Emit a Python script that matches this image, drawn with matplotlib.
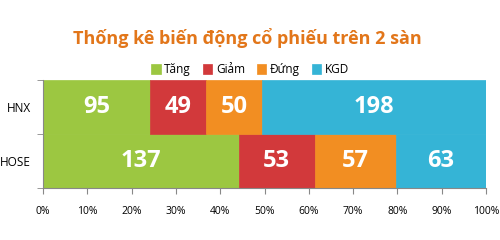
import matplotlib
matplotlib.use("Agg")
import matplotlib.pyplot as plt
import numpy as np

categories = ["HOSE", "HNX"]
series_names = ["Tăng", "Giảm", "Đứng", "KGD"]
tang = [137, 95]
giam = [53, 49]
dung = [57, 50]
kgd = [63, 198]
colors = ["#9CC741", "#D2393B", "#F28E22", "#35B4D6"]
title = "Thống kê biến động cổ phiếu trên 2 sàn"

plt.rcParams['font.family'] = ['Open Sans', 'DejaVu Sans']

data = np.array([tang, giam, dung, kgd], dtype=float)
totals = data.sum(axis=0)
pct = data / totals * 100

fig = plt.figure(figsize=(5, 2.4), dpi=100)
ax = fig.add_axes([0.086, 0.217, 0.886, 0.45])
y = np.arange(len(categories))
left = np.zeros(len(categories))
handles = []
for i, name in enumerate(series_names):
    bars = ax.barh(y, pct[i], left=left, height=1.0, color=colors[i],
                   edgecolor=colors[i], linewidth=0.5, label=name)
    handles.append(bars)
    for j in range(len(categories)):
        ax.text(left[j] + pct[i][j] / 2, y[j], f"{int(data[i][j])}",
                ha="center", va="center", color="white",
                fontsize=17, fontweight="bold")
    left += pct[i]

ax.set_xlim(0, 100)
ax.set_ylim(-0.5, 1.5)
ax.set_xticks(np.arange(0, 101, 10))
ax.set_xticklabels([f"{v}%" for v in range(0, 101, 10)], fontsize=7.5)
ax.set_yticks(y)
ax.set_yticklabels(categories, fontsize=8.5)
ax.set_yticks([-0.5, 0.5, 1.5], minor=True)
ax.tick_params(axis='y', which='major', length=0, pad=8.5)
ax.tick_params(axis='y', which='minor', length=4, color="#888888")
ax.tick_params(axis='x', length=4, color="#888888", pad=9)
for s in ["top", "right"]:
    ax.spines[s].set_visible(False)
for s in ["left", "bottom"]:
    ax.spines[s].set_color("#888888")

fig.text(0.494, 0.84, title, ha="center", va="center", fontsize=13,
         fontweight="bold", color="#E2761A")
fig.legend(handles=handles, labels=series_names, loc="center",
           bbox_to_anchor=(0.5, 0.71), ncol=4, frameon=False, fontsize=8.5,
           handlelength=0.8, handleheight=0.8, handletextpad=0.3,
           columnspacing=1.0)

fig.savefig("out.png", dpi=100)
